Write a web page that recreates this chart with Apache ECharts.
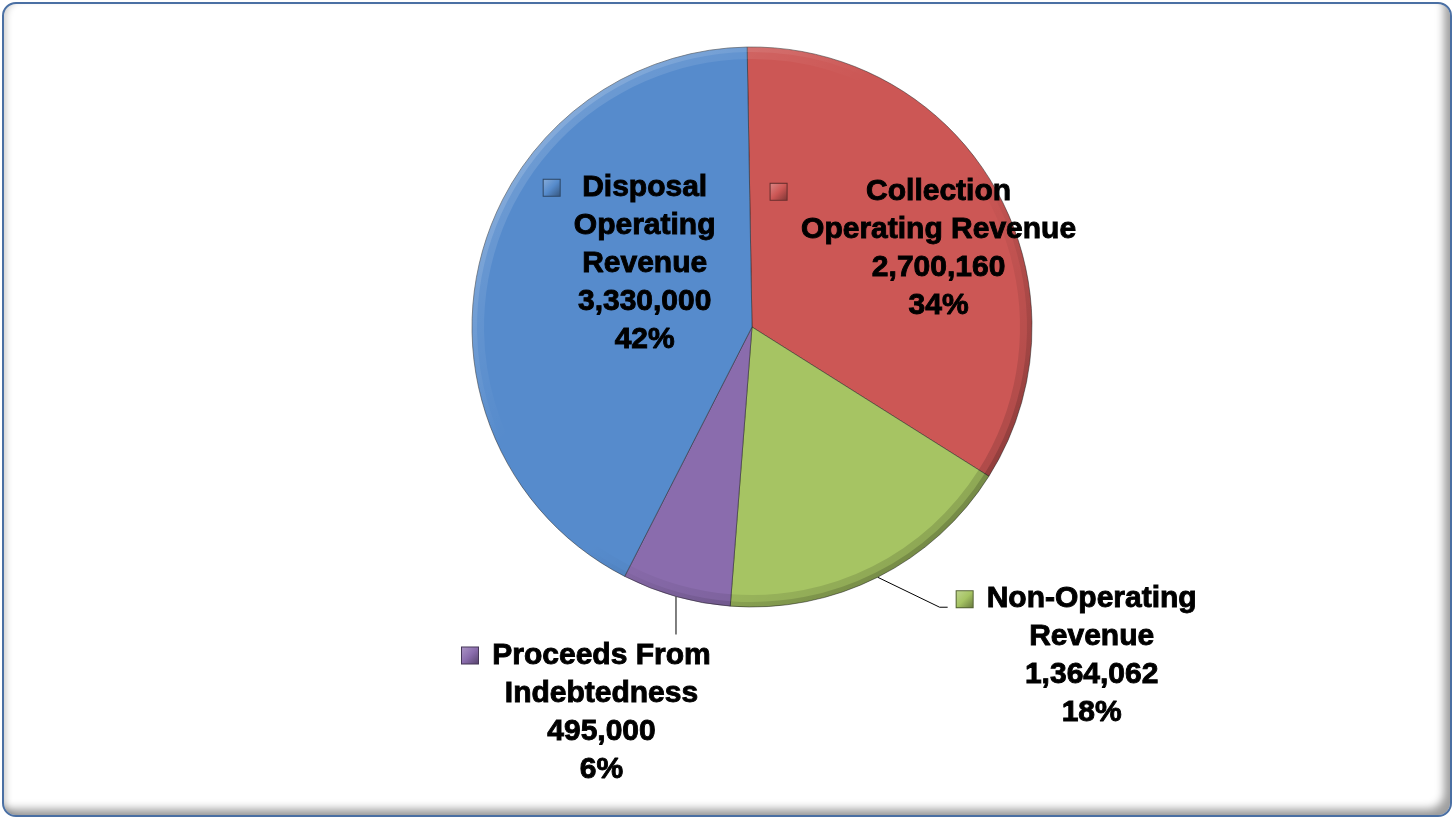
<!DOCTYPE html>
<html>
<head>
<meta charset="utf-8">
<script src="https://cdn.jsdelivr.net/npm/echarts@6/dist/echarts.min.js"></script>
<style>
  html, body { margin: 0; padding: 0; width: 1454px; height: 819px; background: #fff; overflow: hidden; }
  #frame {
    position: absolute; left: 2px; top: 2px; width: 1446px; height: 811px;
    border: 2px solid #4a6fa3; border-radius: 14px; background: #fff;
    box-shadow: inset -10px -10px 9px -4px rgba(0,0,0,0.38), inset 6px 0 7px -4px rgba(0,0,0,0.22);
  }
  #chart { position: absolute; left: 0; top: 0; width: 1454px; height: 819px; }
</style>
</head>
<body>
<div id="frame"></div>
<div id="chart"></div>
<script>
// Revenue sources, listed clockwise from twelve o'clock
const categories = [
  'Collection\nOperating Revenue',
  'Non-Operating\nRevenue',
  'Proceeds From\nIndebtedness',
  'Disposal\nOperating\nRevenue'
];
const revenue = [2700160, 1364062, 495000, 3330000];
const sliceColors = ['#cc5755', '#a6c463', '#8a6cad', '#568bcc'];

// Pie geometry
const PIE_CENTER = [752, 327];
const PIE_R = 280;
const START_ANGLE = 91;

const FONT = '"Liberation Sans", Arial, sans-serif';
const FONT_SIZE = 30;
const LINE_H = 38;

// Label placement: inside labels are nudged from the default spot,
// outside labels hang off a leader line that starts on the slice edge.
const placement = [
  { inside: true, dx: 47, dy: -8 },
  { inside: false, bend: [62, 30], tail: 8, tx: 9, ty: -27 },
  { inside: false, bend: [0, 38], tail: 0, tx: -214, ty: 2 },
  { inside: true, dx: 17, dy: -31 }
];

function shade(hex, amt) {
  const n = parseInt(hex.slice(1), 16);
  let r = (n >> 16) & 255, g = (n >> 8) & 255, b = n & 255;
  const t = amt < 0 ? 0 : 255, p = Math.abs(amt);
  r = Math.round(r + (t - r) * p); g = Math.round(g + (t - g) * p); b = Math.round(b + (t - b) * p);
  return 'rgb(' + r + ',' + g + ',' + b + ')';
}

const fmtNum = v => v.toLocaleString('en-US');

// Width of the widest text line of each label block
const measureCtx = document.createElement('canvas').getContext('2d');
measureCtx.font = 'bold ' + FONT_SIZE + 'px ' + FONT;
const blockWidths = categories.map((name, i) => {
  const lines = name.split('\n').concat([fmtNum(revenue[i])]);
  return Math.ceil(Math.max.apply(null, lines.map(l => measureCtx.measureText(l).width)));
});

const rich = {
  hold: { width: 16, height: 16, lineHeight: LINE_H, align: 'left' },
  gap: { width: 14, height: 16, lineHeight: LINE_H, align: 'left' }
};
sliceColors.forEach((c, i) => {
  rich['key' + i] = {
    width: 16, height: 16, lineHeight: LINE_H, align: 'left',
    borderColor: shade(c, -0.5), borderWidth: 1,
    backgroundColor: {
      type: 'linear', x: 0, y: 0, x2: 1, y2: 1,
      colorStops: [
        { offset: 0, color: shade(c, 0.3) },
        { offset: 0.5, color: c },
        { offset: 1, color: shade(c, -0.4) }
      ]
    }
  };
  rich['txt' + i] = {
    width: blockWidths[i], align: 'center', lineHeight: LINE_H,
    fontSize: FONT_SIZE, fontWeight: 'bold', fontFamily: FONT, color: '#000',
    textBorderColor: '#000', textBorderWidth: 0.9
  };
});

const pieData = categories.map((name, i) => ({
  name: name,
  value: revenue[i],
  label: { position: placement[i].inside ? 'inside' : 'outside' },
  labelLine: { show: !placement[i].inside }
}));

// Rim shading: light toward the upper left, dark toward the lower right
const rimGradient = alpha => ({
  type: 'linear', global: true,
  x: PIE_CENTER[0] - PIE_R, y: PIE_CENTER[1] - PIE_R,
  x2: PIE_CENTER[0] + PIE_R, y2: PIE_CENTER[1] + PIE_R,
  colorStops: [
    { offset: 0, color: 'rgba(255,255,255,' + alpha + ')' },
    { offset: 0.38, color: 'rgba(255,255,255,0)' },
    { offset: 0.55, color: 'rgba(0,0,0,0)' },
    { offset: 1, color: 'rgba(0,0,0,' + alpha + ')' }
  ]
});

const rimSeries = (inner, alpha) => ({
  type: 'pie',
  center: PIE_CENTER,
  radius: [inner, PIE_R],
  startAngle: START_ANGLE,
  clockwise: true,
  silent: true,
  animation: false,
  label: { show: false },
  labelLine: { show: false },
  emphasis: { disabled: true },
  itemStyle: { color: rimGradient(alpha), borderWidth: 0 },
  data: categories.map((name, i) => ({ name: name, value: revenue[i] }))
});

const chart = echarts.init(document.getElementById('chart'), null, { renderer: 'canvas' });
chart.setOption({
  animation: false,
  color: sliceColors,
  series: [
    {
      type: 'pie',
      center: PIE_CENTER,
      radius: PIE_R,
      startAngle: START_ANGLE,
      clockwise: true,
      avoidLabelOverlap: false,
      percentPrecision: 0,
      silent: true,
      emphasis: { disabled: true },
      itemStyle: { borderColor: 'rgba(35,35,35,0.5)', borderWidth: 1 },
      label: {
        show: true,
        position: 'outside',
        rich: rich,
        formatter: p => {
          const i = p.dataIndex;
          const lines = p.name.split('\n').concat([fmtNum(p.value), p.percent + '%']);
          return lines.map((l, k) =>
            (k === 0 ? '{key' + i + '|}' : '{hold|}') + '{gap|}' + '{txt' + i + '|' + l + '}'
          ).join('\n');
        }
      },
      labelLine: { show: true, length: 20, length2: 10, lineStyle: { color: '#000', width: 1 } },
      labelLayout: p => {
        const cfg = placement[p.dataIndex];
        if (cfg.inside) return { dx: cfg.dx, dy: cfg.dy };
        const a = p.labelLinePoints[0];
        const elbow = [a[0] + cfg.bend[0], a[1] + cfg.bend[1]];
        const end = [elbow[0] + cfg.tail, elbow[1]];
        return {
          x: end[0] + cfg.tx, y: end[1] + cfg.ty,
          align: 'left', verticalAlign: 'top',
          labelLinePoints: [a, elbow, end]
        };
      },
      data: pieData
    },
    rimSeries(PIE_R - 12, 0.22),
    rimSeries(PIE_R - 5, 0.25)
  ]
});
</script>
</body>
</html>
